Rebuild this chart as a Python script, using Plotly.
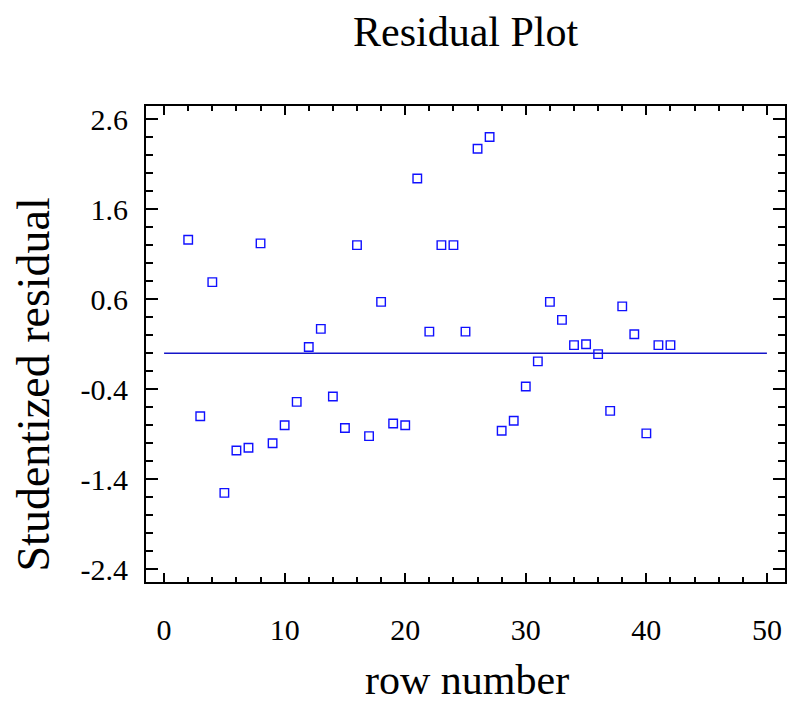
import plotly.graph_objects as go

row_number = [2, 3, 4, 5, 6, 7, 8, 9, 10, 11, 12, 13, 14, 15, 16, 17, 18, 19, 20, 21,
              22, 23, 24, 25, 26, 27, 28, 29, 30, 31, 32, 33, 34, 35, 36, 37, 38, 39, 40, 41, 42]
residual = [1.26, -0.70, 0.79, -1.55, -1.08, -1.05, 1.22, -1.00, -0.80, -0.54, 0.07, 0.27,
            -0.48, -0.83, 1.20, -0.92, 0.57, -0.78, -0.80, 1.94, 0.24, 1.20, 1.20, 0.24,
            2.27, 2.40, -0.86, -0.75, -0.37, -0.09, 0.57, 0.37, 0.09, 0.10, -0.01, -0.64,
            0.52, 0.21, -0.89, 0.09, 0.09]
zero_x = [0, 50]
zero_y = [0, 0]
y_tick_vals = [2.6, 1.6, 0.6, -0.4, -1.4, -2.4]
y_tick_text = ["2.6", "1.6", "0.6", "-0.4", "-1.4", "-2.4"]
x_tick_vals = [0, 10, 20, 30, 40, 50]
x_tick_text = ["0", "10", "20", "30", "40", "50"]

FONT = "Liberation Serif"

fig = go.Figure()
fig.add_trace(go.Scatter(x=zero_x, y=zero_y, mode="lines",
                         line=dict(color="#1515c8", width=1.4), showlegend=False,
                         hoverinfo="skip"))
fig.add_trace(go.Scatter(x=row_number, y=residual, mode="markers",
                         marker=dict(symbol="square-open", size=8.5, color="#1010ff",
                                     line=dict(width=1.4, color="#1010ff")),
                         showlegend=False))

axis_common = dict(showgrid=False, zeroline=False, showline=True, linecolor="black",
                   linewidth=2, mirror="ticks", ticks="inside", tickcolor="black",
                   tickwidth=2, tickfont=dict(family=FONT, size=30, color="black"))

fig.update_xaxes(range=[-1.5, 51.5], tickmode="array", tickvals=x_tick_vals,
                 ticktext=x_tick_text, ticklen=9,
                 minor=dict(dtick=2, tick0=0, ticks="inside", ticklen=5, tickwidth=2,
                            tickcolor="black"),
                 ticklabelstandoff=20, **axis_common)
fig.update_yaxes(range=[-2.54, 2.745], tickmode="array", tickvals=y_tick_vals,
                 ticktext=y_tick_text, ticklen=12,
                 minor=dict(dtick=0.2, tick0=0.6, ticks="inside", ticklen=7, tickwidth=2,
                            tickcolor="black"),
                 ticklabelstandoff=10, **axis_common)

fig.update_layout(
    width=789, height=709,
    margin=dict(l=146, r=2, t=106, b=127),
    plot_bgcolor="white", paper_bgcolor="white",
    annotations=[
        dict(text="Residual Plot", xref="paper", yref="paper", x=0.5, y=1.155,
             xanchor="center", yanchor="middle", showarrow=False,
             font=dict(family=FONT, size=42, color="black")),
        dict(text="row number", xref="paper", yref="paper", x=0.503, y=-0.206,
             xanchor="center", yanchor="middle", showarrow=False,
             font=dict(family=FONT, size=42, color="black")),
        dict(text="Studentized residual", xref="paper", yref="paper", x=-0.176, y=0.414,
             xanchor="center", yanchor="middle", showarrow=False, textangle=-90,
             font=dict(family=FONT, size=46, color="black")),
    ],
)

fig.write_html("out.html")
